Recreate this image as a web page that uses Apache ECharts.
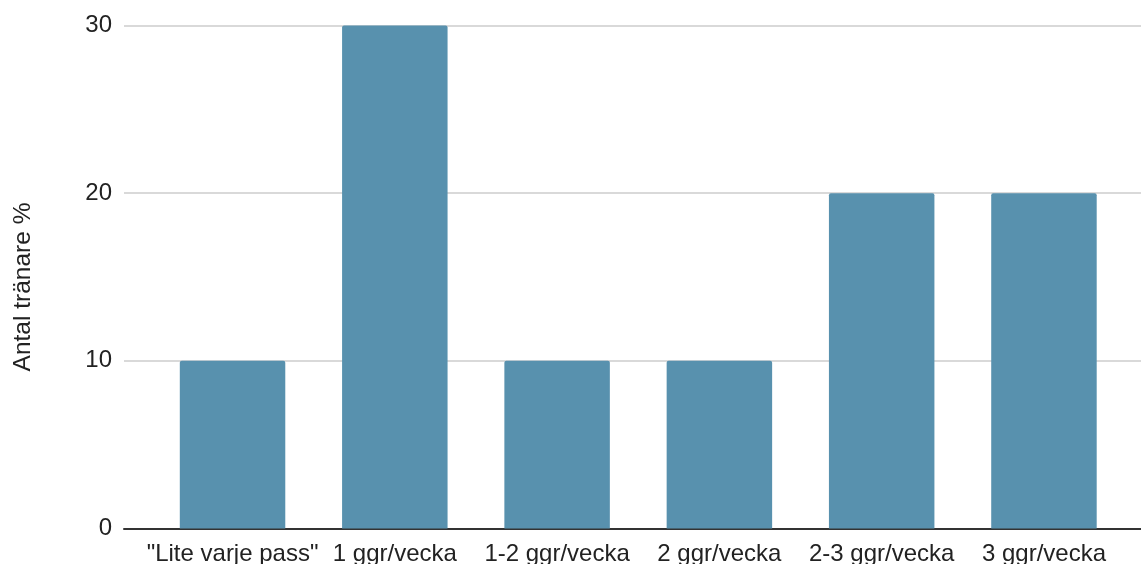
<!DOCTYPE html>
<html>
<head>
<meta charset="utf-8">
<script src="https://cdn.jsdelivr.net/npm/echarts@6/dist/echarts.min.js"></script>
<style>
  html, body { margin: 0; padding: 0; background: #fff; }
  #chart { width: 1141px; height: 564px; }
</style>
</head>
<body>
<div id="chart"></div>
<script>
// Training frequency categories and share of trainers (%)
const categories = ['"Lite varje pass"', '1 ggr/vecka', '1-2 ggr/vecka', '2 ggr/vecka', '2-3 ggr/vecka', '3 ggr/vecka'];
const values = [10, 30, 10, 10, 20, 20];
const yTicks = { min: 0, max: 30, interval: 10 };
const yTitle = 'Antal tränare %';

const font = '"Liberation Sans", Arial, sans-serif';
const textColor = '#222';
const fontSize = 24;

const chart = echarts.init(document.getElementById('chart'), null, { renderer: 'canvas' });

chart.setOption({
  animation: false,
  backgroundColor: '#fff',
  grid: [
    // frame grid: gridlines, value labels and baseline across the full width
    { left: 124, right: 0, top: 25.5, bottom: 35.5, outerBoundsMode: 'none', containLabel: false },
    // inner band where the bars sit
    { left: 151.4, right: 15.9, top: 25.5, bottom: 35.5, outerBoundsMode: 'none', containLabel: false }
  ],
  xAxis: [
    {
      gridIndex: 0, type: 'value', min: 0, max: 1,
      axisLine: { show: true, onZero: false, lineStyle: { color: '#333', width: 2 } },
      axisTick: { show: false }, axisLabel: { show: false }, splitLine: { show: false }
    },
    {
      gridIndex: 1, type: 'category', data: categories,
      axisLine: { show: false }, axisTick: { show: false },
      axisLabel: { color: textColor, fontFamily: font, fontSize: fontSize, margin: 14, interval: 0 }
    }
  ],
  yAxis: [
    {
      gridIndex: 0, type: 'value', min: yTicks.min, max: yTicks.max, interval: yTicks.interval,
      axisLine: { show: false }, axisTick: { show: false },
      axisLabel: { color: textColor, fontFamily: font, fontSize: fontSize, margin: 12 },
      splitLine: { lineStyle: { color: '#cccccc', width: 1.5 } },
      name: yTitle, nameLocation: 'middle', nameGap: 88, nameRotate: 90,
      nameTextStyle: { color: textColor, fontFamily: font, fontSize: 24.5, padding: [0, 20, 0, 0] }
    },
    {
      gridIndex: 1, type: 'value', min: yTicks.min, max: yTicks.max, interval: yTicks.interval,
      show: false, splitLine: { show: false }
    }
  ],
  series: [
    {
      type: 'bar', xAxisIndex: 1, yAxisIndex: 1,
      data: values,
      barCategoryGap: '35%',
      itemStyle: { color: '#5891ae', borderRadius: [2, 2, 0, 0] }
    }
  ]
});
</script>
</body>
</html>
